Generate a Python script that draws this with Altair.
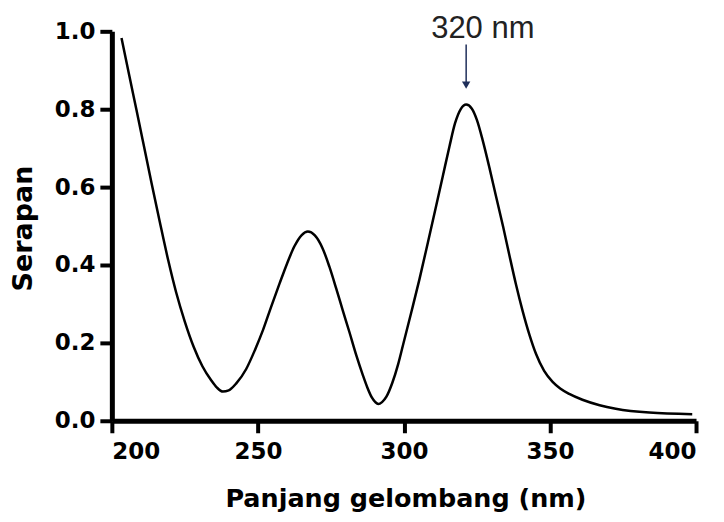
import altair as alt
import pandas as pd

# Spectrum
wavelength = [203.3, 206.0, 208.4, 210.8, 213.6, 216.4, 219.3, 222.0, 225.0, 228.0,
              231.0, 234.0, 236.0, 238.0, 240.0, 242.6, 246.0, 249.0, 251.7, 254.5,
              257.4, 260.0, 262.5, 265.0, 267.1, 269.5, 272.2, 274.5, 276.8, 279.0,
              281.4, 283.7, 285.9, 287.5, 289.0, 290.2, 291.2, 292.5, 294.0, 296.0,
              298.0, 299.6, 302.5, 305.3, 308.2, 311.0, 313.3, 315.6, 317.5, 319.5,
              321.3, 323.2, 325.0, 326.9, 329.2, 331.5, 334.0, 336.1, 338.3, 340.6,
              343.0, 345.2, 348.0, 350.9, 353.5, 356.6, 361.1, 367.0, 372.5, 384.0,
              398.7]
absorbance = [0.983, 0.885, 0.799, 0.712, 0.610, 0.511, 0.412, 0.330, 0.254, 0.190,
              0.140, 0.104, 0.085, 0.075, 0.078, 0.096, 0.133, 0.182, 0.232, 0.292,
              0.352, 0.404, 0.448, 0.477, 0.486, 0.476, 0.442, 0.395, 0.340, 0.285,
              0.226, 0.168, 0.118, 0.085, 0.060, 0.048, 0.043, 0.048, 0.062, 0.097,
              0.145, 0.192, 0.278, 0.363, 0.458, 0.551, 0.628, 0.705, 0.764, 0.801,
              0.812, 0.802, 0.772, 0.722, 0.652, 0.577, 0.497, 0.425, 0.352, 0.283,
              0.220, 0.172, 0.128, 0.100, 0.083, 0.069, 0.054, 0.040, 0.031, 0.021,
              0.017]

x_ticks = [200, 250, 300, 350, 400]
y_ticks = [0.0, 0.2, 0.4, 0.6, 0.8, 1.0]

# Annotation
ann_text = ["320 nm"]
ann_text_x = [327.0]
ann_text_y = [0.984]
arrow_x = [321.3]
arrow_top = [0.966]
arrow_bottom = [0.870]
arrow_head_y = [0.862]

df = pd.DataFrame({"x": wavelength, "y": absorbance})
ann = pd.DataFrame({"label": ann_text, "x": ann_text_x, "y": ann_text_y})
arr = pd.DataFrame({"x": arrow_x, "y": arrow_top, "y2": arrow_bottom})
head = pd.DataFrame({"x": arrow_x, "y": arrow_head_y})

xs = alt.Scale(domain=[200, 400], nice=False, zero=False)
ys = alt.Scale(domain=[0, 1], nice=False)

axis_common = dict(
    grid=False, domainColor="black", domainWidth=5, tickColor="black",
    tickWidth=4, tickSize=12, labelColor="black", labelFont="DejaVu Sans",
    labelFontWeight="bold", labelFontSize=23, titleColor="black",
    titleFont="DejaVu Sans", titleFontWeight="bold",
)

line = alt.Chart(df).mark_line(color="black", strokeWidth=2.5, interpolate="monotone").encode(
    x=alt.X("x:Q", scale=xs, axis=alt.Axis(
        title="Panjang gelombang (nm)", values=x_ticks, format="d", labelPadding=8,
        titleFontSize=25.5, titleBaseline="alphabetic", titleX=294, titleY=86,
        **axis_common)),
    y=alt.Y("y:Q", scale=ys, axis=alt.Axis(
        title="Serapan", values=y_ticks, format=".1f", labelPadding=5,
        titleFontSize=27, titleBaseline="alphabetic", titleX=-80, titleY=197,
        titleAngle=-90, **axis_common)),
)

arrow_line = alt.Chart(arr).mark_rule(color="#1f2f5a", strokeWidth=1.5).encode(
    x=alt.X("x:Q", scale=xs), y=alt.Y("y:Q", scale=ys), y2="y2:Q"
)
arrow_head = alt.Chart(head).mark_point(shape="triangle-down", filled=True, color="#1f2f5a",
                                        size=70, opacity=1).encode(
    x=alt.X("x:Q", scale=xs), y=alt.Y("y:Q", scale=ys)
)
label = alt.Chart(ann).mark_text(font="Liberation Sans", fontSize=31, color="#222222",
                                 baseline="alphabetic", align="center").encode(
    x=alt.X("x:Q", scale=xs), y=alt.Y("y:Q", scale=ys), text="label:N"
)

chart = alt.layer(line, arrow_line, arrow_head, label).properties(
    width=585, height=390,
    autosize=alt.AutoSizeParams(type="none"),
    padding={"left": 104, "top": 23, "right": 20, "bottom": 93},
).configure(background="white").configure_view(stroke=None)

chart.save("out.html", embed_options={"renderer": "svg", "actions": False})
